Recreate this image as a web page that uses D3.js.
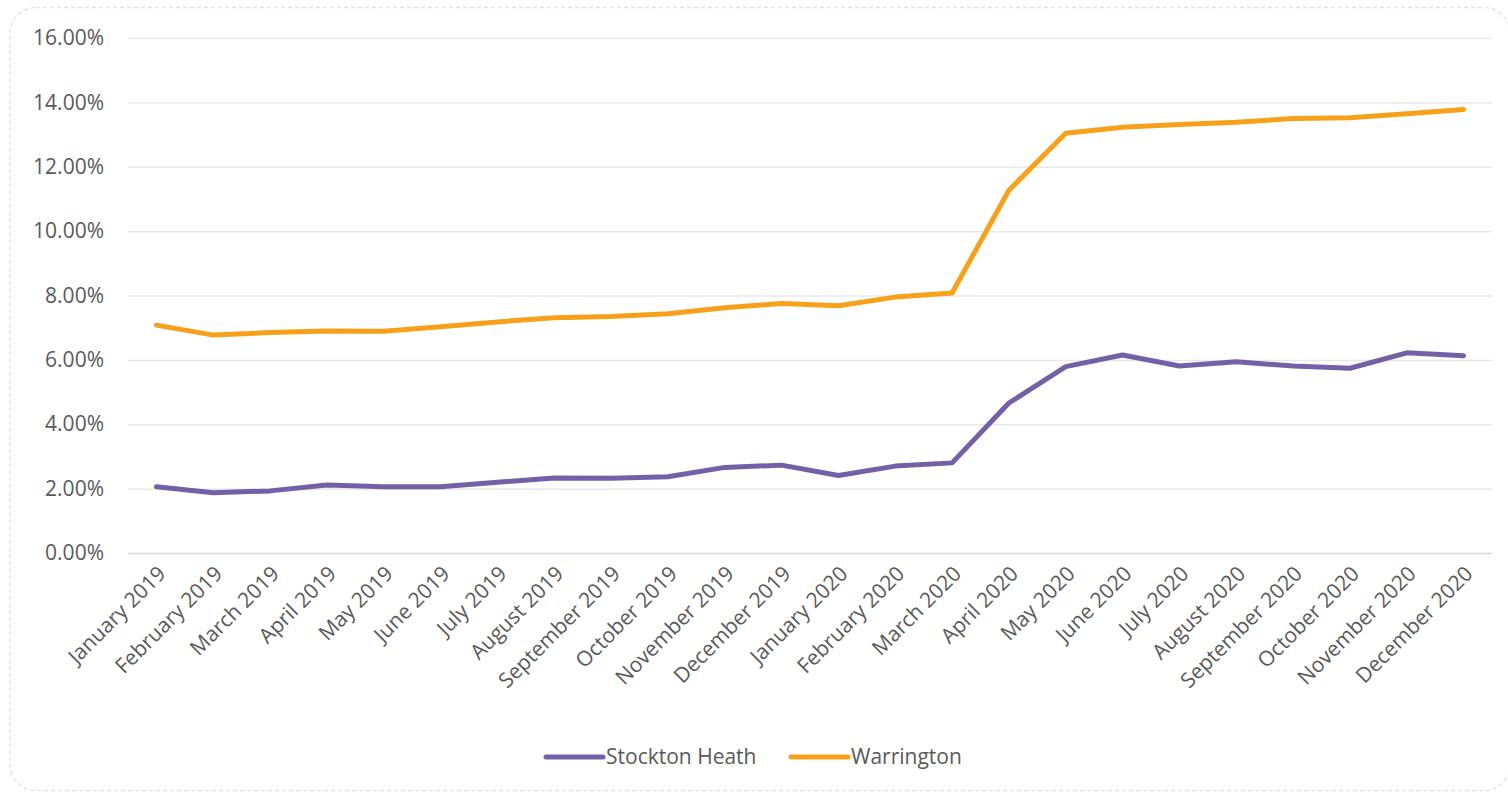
<!DOCTYPE html>
<html>
<head>
<meta charset="utf-8">
<script src="https://cdn.jsdelivr.net/npm/d3@7"></script>
<style>
  html, body { margin: 0; padding: 0; background: #fff; }
  text { font-family: "Open Sans", "Liberation Sans", sans-serif; fill: #595959; }
</style>
</head>
<body>
<div id="chartContainer"></div>
<script>
/* @@@ DATAS @@@ */
let months = ["January 2019", "February 2019", "March 2019", "April 2019", "May 2019", "June 2019",
  "July 2019", "August 2019", "September 2019", "October 2019", "November 2019", "December 2019",
  "January 2020", "February 2020", "March 2020", "April 2020", "May 2020", "June 2020",
  "July 2020", "August 2020", "September 2020", "October 2020", "November 2020", "December 2020"]

let stocktonHeath = [2.06, 1.87, 1.93, 2.11, 2.06, 2.06, 2.2, 2.33, 2.32, 2.37, 2.66, 2.73,
  2.41, 2.7, 2.8, 4.66, 5.79, 6.15, 5.81, 5.94, 5.81, 5.74, 6.22, 6.13]

let warrington = [7.08, 6.77, 6.85, 6.9, 6.89, 7.03, 7.18, 7.31, 7.35, 7.43, 7.62, 7.75,
  7.68, 7.95, 8.08, 11.27, 13.04, 13.23, 13.31, 13.38, 13.5, 13.52, 13.65, 13.78]

let seriesNames = ["Stockton Heath", "Warrington"]
let yTicks = [0, 2, 4, 6, 8, 10, 12, 14, 16]

window.onload = function () {

  /* @@@ constantes @@@ */
  let w = 1508
  let h = 795
  let left = 128
  let right = 1492
  let top = 38
  let bottom = 553
  let colors = ["#7460a6", "#f7a11b"]

  let svg = d3.select("#chartContainer")
      .append("svg")
      .attr("width", w)
      .attr("height", h)

  /* cadre pointillé arrondi */
  svg.append("rect")
      .attr("x", 10)
      .attr("y", 7.5)
      .attr("width", 1500)
      .attr("height", 783)
      .attr("rx", 26)
      .attr("fill", "none")
      .attr("stroke", "#e4e4e4")
      .attr("stroke-width", 1.5)
      .attr("stroke-dasharray", "4,3")

  /* @@@ échelles @@@ */
  let x = d3.scalePoint()
      .domain(months)
      .range([left, right])
      .padding(0.5)

  let y = d3.scaleLinear()
      .domain([0, 16])
      .range([bottom, top])

  /* @@@ grille + axe Y @@@ */
  let yAxis = svg.append("g")
      .attr("transform", "translate(" + left + ",0)")
      .call(d3.axisLeft(y)
          .tickValues(yTicks)
          .tickSize(-(right - left))
          .tickPadding(24)
          .tickFormat(function (d) { return d.toFixed(2) + "%" }))

  yAxis.select(".domain").remove()
  yAxis.selectAll(".tick line")
      .attr("stroke", function (d) { return d === 0 ? "#d4d4d4" : "#e8e8e8" })
      .attr("stroke-width", 1.5)
  yAxis.selectAll(".tick text")
      .attr("font-size", "21px")
      .attr("fill", "#595959")

  /* @@@ axe X, labels à -45° @@@ */
  let xAxis = svg.append("g")
      .attr("transform", "translate(0," + bottom + ")")
      .call(d3.axisBottom(x).tickSize(0).tickPadding(0))

  xAxis.select(".domain").remove()
  xAxis.selectAll(".tick text")
      .attr("font-size", "21px")
      .attr("fill", "#595959")
      .attr("text-anchor", "end")
      .attr("dy", "0")
      .attr("transform", "translate(10,22) rotate(-45)")

  /* @@@ lignes @@@ */
  let line = d3.line()
      .x(function (d, i) { return x(months[i]) })
      .y(function (d) { return y(d) })

  let allSeries = [stocktonHeath, warrington]

  svg.selectAll(".serie")
      .data(allSeries)
      .enter()
      .append("path")
      .attr("class", "serie")
      .attr("d", line)
      .attr("fill", "none")
      .attr("stroke", function (d, i) { return colors[i] })
      .attr("stroke-width", 5)
      .attr("stroke-linejoin", "round")
      .attr("stroke-linecap", "round")

  /* @@@ légende @@@ */
  let legendX = [546, 791]
  let legend = svg.selectAll(".legend")
      .data(seriesNames)
      .enter()
      .append("g")
      .attr("class", "legend")
      .attr("transform", function (d, i) { return "translate(" + legendX[i] + ",757)" })

  legend.append("line")
      .attr("x1", 0)
      .attr("x2", 57)
      .attr("stroke", function (d, i) { return colors[i] })
      .attr("stroke-width", 5)
      .attr("stroke-linecap", "round")

  legend.append("text")
      .attr("x", 60)
      .attr("dy", "0.35em")
      .attr("font-size", "21px")
      .text(function (d) { return d })
}
</script>
</body>
</html>
